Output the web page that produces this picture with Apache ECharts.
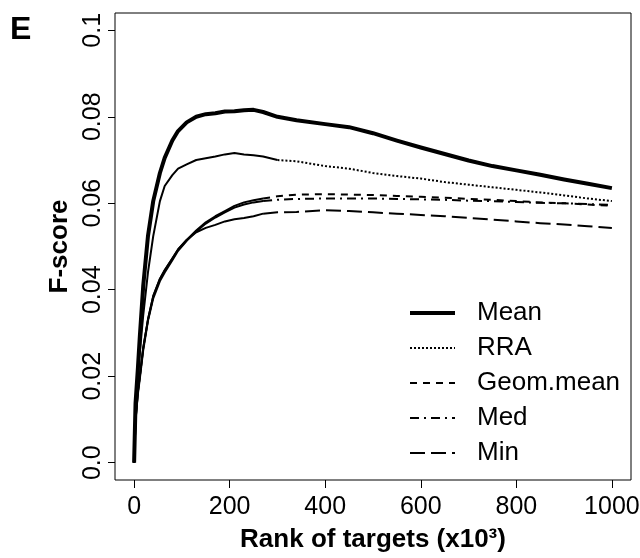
<!DOCTYPE html>
<html>
<head>
<meta charset="utf-8">
<script src="https://cdn.jsdelivr.net/npm/echarts@6/dist/echarts.min.js"></script>
<style>
  html, body { margin: 0; padding: 0; background: #ffffff; }
  #chart { width: 640px; height: 558px; }
</style>
</head>
<body>
<div id="chart"></div>
<script>
// ---- data (rank of targets in thousands, F-score) ----
const ranks = [0, 3, 8, 12, 19, 29, 40, 54, 64, 80, 92, 110, 130, 150, 170, 190, 210, 230, 250, 270, 300, 340, 400, 450, 500, 550, 600, 650, 700, 750, 800, 850, 900, 950, 1000];
const meanScore = [0, 0.0138, 0.0220, 0.0293, 0.0408, 0.0524, 0.0605, 0.0670, 0.0705, 0.0745, 0.0767, 0.0787, 0.0800, 0.0806, 0.0808, 0.0812, 0.0813, 0.0815, 0.0816, 0.0811, 0.0800, 0.0792, 0.0783, 0.0776, 0.0762, 0.0745, 0.0729, 0.0714, 0.0699, 0.0686, 0.0676, 0.0666, 0.0655, 0.0645, 0.0635];
const rraScore = [0, 0.0130, 0.0200, 0.0255, 0.0340, 0.0440, 0.0524, 0.0605, 0.0640, 0.0665, 0.0680, 0.0690, 0.0700, 0.0704, 0.0708, 0.0713, 0.0716, 0.0713, 0.0711, 0.0708, 0.0700, 0.0697, 0.0686, 0.0680, 0.0670, 0.0663, 0.0657, 0.0649, 0.0643, 0.0637, 0.0631, 0.0625, 0.0618, 0.0611, 0.0605];
const geomScore = [0, 0.0100, 0.0165, 0.0200, 0.0265, 0.0331, 0.0385, 0.0425, 0.0445, 0.0472, 0.0493, 0.0515, 0.0537, 0.0556, 0.0570, 0.0582, 0.0594, 0.0602, 0.0607, 0.0611, 0.0616, 0.0620, 0.0621, 0.0620, 0.0619, 0.0617, 0.0615, 0.0613, 0.0610, 0.0608, 0.0605, 0.0602, 0.0600, 0.0597, 0.0594];
const medScore = [0, 0.0098, 0.0160, 0.0195, 0.0260, 0.0328, 0.0380, 0.0420, 0.0440, 0.0468, 0.0490, 0.0513, 0.0535, 0.0553, 0.0567, 0.0579, 0.0590, 0.0597, 0.0602, 0.0605, 0.0608, 0.0610, 0.0611, 0.0611, 0.0611, 0.0610, 0.0609, 0.0608, 0.0606, 0.0605, 0.0603, 0.0601, 0.0600, 0.0598, 0.0596];
const minScore = [0, 0.0100, 0.0165, 0.0200, 0.0265, 0.0331, 0.0385, 0.0425, 0.0445, 0.0472, 0.0493, 0.0515, 0.0533, 0.0543, 0.0550, 0.0558, 0.0563, 0.0566, 0.0570, 0.0576, 0.0579, 0.0580, 0.0584, 0.0582, 0.0579, 0.0576, 0.0573, 0.0570, 0.0566, 0.0562, 0.0558, 0.0554, 0.0551, 0.0547, 0.0543];

const seriesNames = ['Mean', 'RRA', 'Geom.mean', 'Med', 'Min'];
const xTickValues = [0, 200, 400, 600, 800, 1000];
const xTickLabels = ['0', '200', '400', '600', '800', '1000'];
const yTickValues = [0, 0.02, 0.04, 0.06, 0.08, 0.1];
const yTickLabels = ['0.0', '0.02', '0.04', '0.06', '0.08', '0.1'];
const xTitle = 'Rank of targets (x10³)';
const yTitle = 'F-score';
const panelLetter = 'E';

// ---- helpers ----
const FONT = 'Liberation Sans';
function pts(values, from, to) {
  const out = [];
  for (let i = 0; i < ranks.length; i++) {
    if (ranks[i] >= from && ranks[i] <= to) out.push([ranks[i], values[i]]);
  }
  return out;
}
const dashRRA = [2, 2];
const dashGeom = [7, 6];
const dashMed = [9, 5, 2, 5];
const dashMin = [15, 6];

function line(name, data, width, type) {
  return {
    name: name, type: 'line', data: data, symbol: 'none', showSymbol: false,
    smooth: false, animation: false, silent: true,
    lineStyle: { color: '#000', width: width, type: type, cap: 'butt', join: 'round' },
    itemStyle: { color: '#000' }
  };
}

const chart = echarts.init(document.getElementById('chart'), null, { renderer: 'canvas' });
chart.setOption({
  animation: false,
  backgroundColor: '#ffffff',
  textStyle: { fontFamily: FONT, color: '#000' },
  grid: {
    left: 115, right: 9, top: 13, bottom: 78,
    show: true, borderColor: '#000', borderWidth: 1, backgroundColor: 'transparent',
    containLabel: false, outerBoundsMode: 'none'
  },
  xAxis: {
    type: 'value', min: -40, max: 1040,
    axisLine: { show: false, onZero: false },
    axisTick: { show: true, length: 8, inside: false, lineStyle: { color: '#000', width: 1 }, customValues: xTickValues },
    axisLabel: {
      customValues: xTickValues, fontSize: 25, color: '#000', fontFamily: FONT, margin: 15,
      formatter: function (v) { const i = xTickValues.indexOf(v); return i >= 0 ? xTickLabels[i] : ''; }
    },
    splitLine: { show: false },
    name: xTitle, nameLocation: 'middle', nameGap: 47,
    nameTextStyle: { fontSize: 26, fontWeight: 'bold', color: '#000', fontFamily: FONT }
  },
  yAxis: {
    type: 'value', min: -0.004, max: 0.104,
    axisLine: { show: false, onZero: false },
    axisTick: { show: true, length: 7, inside: false, lineStyle: { color: '#000', width: 1 }, customValues: yTickValues },
    axisLabel: {
      customValues: yTickValues, fontSize: 25, color: '#000', fontFamily: FONT, rotate: 90, margin: 9,
      formatter: function (v) {
        const i = yTickValues.findIndex(function (t) { return Math.abs(t - v) < 1e-9; });
        return i >= 0 ? yTickLabels[i] : '';
      }
    },
    splitLine: { show: false },
    name: yTitle, nameLocation: 'middle', nameGap: 42, nameRotate: 90,
    nameTextStyle: { fontSize: 26, fontWeight: 'bold', color: '#000', fontFamily: FONT }
  },
  legend: {
    orient: 'vertical', left: 408, top: 300, padding: 0,
    itemWidth: 45, itemHeight: 26, itemGap: 9,
    selectedMode: false,
    itemStyle: { opacity: 0 },
    textStyle: { fontSize: 26, color: '#000', fontFamily: FONT, lineHeight: 26, padding: [0, 0, 0, 17] },
    data: [
      { name: 'Mean', lineStyle: { width: 4 } },
      { name: 'RRA', lineStyle: { width: 2 } },
      { name: 'Geom.mean', lineStyle: { width: 2 } },
      { name: 'Med', lineStyle: { width: 2 } },
      { name: 'Min', lineStyle: { width: 2 } }
    ]
  },
  graphic: [{
    type: 'text', left: 10, top: 14,
    style: { text: panelLetter, font: 'bold 32px "Liberation Sans"', fill: '#000' }
  }],
  series: [
    // patterned parts first (legend takes its icon from the first series of a name)
    line('RRA', pts(rraScore, 300, 1000), 2, dashRRA),
    line('Geom.mean', pts(geomScore, 270, 1000), 2, dashGeom),
    line('Med', pts(medScore, 270, 1000), 2, dashMed),
    line('Min', pts(minScore, 270, 1000), 2, dashMin),
    // early parts rendered solid, as in the reference
    line('RRA', pts(rraScore, 0, 300), 2, 'solid'),
    line('Geom.mean', pts(geomScore, 0, 270), 2, 'solid'),
    line('Med', pts(medScore, 0, 270), 2, 'solid'),
    line('Min', pts(minScore, 0, 270), 2, 'solid'),
    line('Mean', pts(meanScore, 0, 1000), 4, 'solid')
  ]
});
</script>
</body>
</html>
